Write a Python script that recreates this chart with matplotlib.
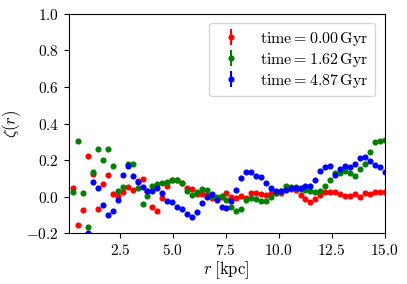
import matplotlib
matplotlib.use('Agg')
import matplotlib.pyplot as plt
from matplotlib.ticker import StrMethodFormatter
import numpy as np

plt.rcParams['mathtext.fontset'] = 'cm'
plt.rcParams['font.family'] = 'serif'
plt.rcParams['font.serif'] = ['cmr10', 'DejaVu Serif']
plt.rcParams['font.size'] = 11

# radial bins [kpc]
r = np.linspace(0.3, 15.0, 64)

zeta_t0 = [0.046, -0.157, -0.073, 0.220, 0.122, -0.069, 0.068, 0.117, 0.014, 0.004,
           0.027, 0.055, 0.037, 0.086, 0.098, 0.030, -0.059, -0.078, -0.005, 0.060,
           0.093, 0.093, 0.073, 0.049, 0.040, 0.013, 0.013, 0.010, -0.009, -0.015,
           0.000, 0.022, -0.002, -0.006, 0.004, -0.005, 0.018, 0.022, 0.013, 0.009,
           0.018, 0.022, 0.022, 0.040, 0.040, 0.036, 0.009, -0.013, -0.027, -0.013,
           0.009, 0.027, 0.024, 0.024, 0.015, 0.005, 0.005, 0.015, 0.000, 0.018,
           0.015, 0.027, 0.024, 0.027]

zeta_t1 = [0.024, 0.304, 0.019, -0.165, 0.133, 0.260, 0.200, 0.259, 0.166, 0.032,
           0.055, 0.177, 0.177, 0.048, -0.038, 0.004, 0.060, 0.067, 0.073, 0.082,
           0.091, 0.091, 0.075, 0.031, 0.009, 0.024, 0.040, 0.036, 0.004, 0.001,
           0.005, -0.018, -0.058, -0.078, -0.069, -0.017, -0.005, -0.015, -0.024, -0.024,
           -0.004, 0.022, 0.030, 0.058, 0.053, 0.053, 0.040, 0.036, 0.031, 0.027,
           0.031, 0.060, 0.091, 0.128, 0.131, 0.142, 0.131, 0.115, 0.149, 0.177,
           0.243, 0.297, 0.304, 0.310]

zeta_t2 = [-0.260, -0.310, -0.240, -0.198, 0.079, 0.049, -0.048, -0.101, -0.077, -0.019,
           0.119, 0.167, 0.113, 0.080, 0.051, 0.033, 0.033, 0.047, 0.020, -0.022,
           -0.031, -0.056, -0.069, -0.097, -0.113, -0.082, -0.036, 0.000, 0.014, -0.018,
           -0.059, -0.064, -0.023, 0.038, 0.100, 0.133, 0.133, 0.115, 0.109, 0.073,
           0.046, 0.031, 0.029, 0.038, 0.046, 0.046, 0.047, 0.060, 0.060, 0.091,
           0.140, 0.160, 0.168, 0.118, 0.151, 0.169, 0.164, 0.178, 0.209, 0.219,
           0.197, 0.173, 0.160, 0.137]

times = ['0.00', '1.62', '4.87']
colors = ['red', 'green', 'blue']

fig = plt.figure(figsize=(4.07, 2.84), dpi=100)
ax = fig.add_axes([68.5 / 407, 1 - 233.3 / 284, 316 / 407, 219.6 / 284])

for zeta, t, c in zip([zeta_t0, zeta_t1, zeta_t2], times, colors):
    zeta = np.array(zeta)
    ax.errorbar(r, zeta, yerr=np.zeros_like(zeta), fmt='o', color=c, ms=3.4,
                elinewidth=1.5, label=r'$\mathrm{time} = %s\,\mathrm{Gyr}$' % t)

ax.set_xlim(0.07, 15.0)
ax.set_ylim(-0.2, 1.0)
ax.set_xticks([2.5, 5.0, 7.5, 10.0, 12.5, 15.0])
ax.set_yticks([-0.2, 0.0, 0.2, 0.4, 0.6, 0.8, 1.0])
ax.xaxis.set_major_formatter(StrMethodFormatter('${x:.1f}$'))
ax.yaxis.set_major_formatter(StrMethodFormatter('${x:.1f}$'))
ax.set_xlabel(r'$r\;[\mathrm{kpc}]$', fontsize=12, labelpad=1)
ax.set_ylabel(r'$\zeta(r)$', fontsize=12, labelpad=2)
ax.legend(loc='upper right', fontsize=11.5, labelspacing=0.2, borderaxespad=0.6)

fig.savefig('out.png', dpi=100)
